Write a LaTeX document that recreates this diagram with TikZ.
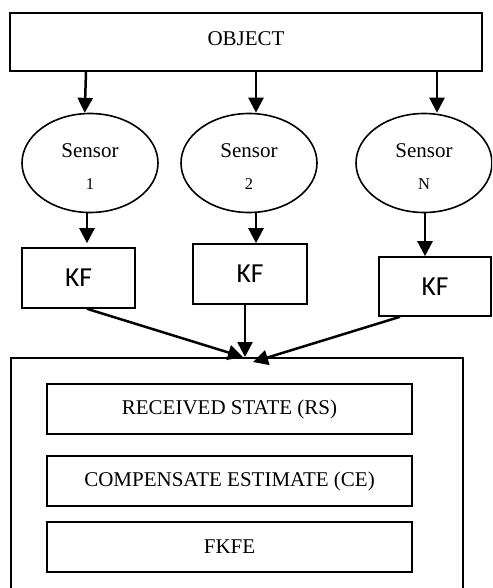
\documentclass[tikz,border=0pt]{standalone}
\usepackage{fontspec}
\setmainfont{Liberation Serif}
\newfontfamily\kffont{Carlito}
\usetikzlibrary{arrows.meta,shapes.geometric,calc}

\tikzset{
  box/.style={draw, line width=1.6pt, rectangle, inner sep=0pt},
  sensorshape/.style={draw, line width=1.6pt, ellipse, inner sep=0pt,
    minimum width=136pt, minimum height=99pt,
    font=\fontsize{21}{25}\selectfont},
  kfbox/.style={box, minimum width=113pt, minimum height=60pt,
    font=\kffont\fontsize{27.5}{30}\selectfont},
  innerbox/.style={box, minimum width=365pt, minimum height=50pt,
    font=\fontsize{21}{25}\selectfont},
  arr/.style={line width=2.5pt, -{Triangle[width=15pt,length=15pt]}},
}

% two-line sensor caption, set a little below the ellipse centre
\newcommand{\sensorlabel}[1]{\raisebox{0pt}[\dimexpr\height+12pt\relax]{\begin{tabular}{@{}c@{}}Sensor\\[7pt]{\fontsize{16.5}{18}\selectfont #1}\end{tabular}}}

\begin{document}
\begin{tikzpicture}[x=1pt,y=-1pt]
  \clip (0,0) rectangle (492,588);

  % source
  \node[box, minimum width=472pt, minimum height=58pt,
        font=\fontsize{21}{25}\selectfont] (obj) at (246,42) {\raisebox{6pt}{OBJECT}};

  % sensors
  \node[sensorshape] (s1) at (90,163)  {\sensorlabel{1}};
  \node[sensorshape] (s2) at (249,163) {\sensorlabel{2}};
  \node[sensorshape] (s3) at (424,163) {\sensorlabel{N}};

  % Kalman filters
  \node[kfbox] (k1) at (78.5,278) {KF};
  \node[kfbox, minimum width=114pt] (k2) at (250,274) {KF};
  \node[kfbox, minimum width=112pt, minimum height=59pt] (k3) at (435,286.5) {KF};

  % fusion block
  \node[box, line width=1.5pt, minimum width=452pt, minimum height=260pt,
        anchor=north] (fus) at (237,357) {};
  \node[innerbox] (rs)   at (229.5,409) {RECEIVED STATE (RS)};
  \node[innerbox] (ce)   at (229.5,481) {COMPENSATE ESTIMATE (CE)};
  \node[innerbox] (fkfe) at (229.5,547) {FKFE};

  % object -> sensors
  \coordinate (t2) at ([xshift=7pt]s2.north);
  \coordinate (t3) at ([xshift=13pt]s3.north);
  \draw[arr] ([xshift=-160pt]obj.south) -- (s1.96);
  \draw[arr] (t2 |- obj.south) -- (t2);
  \draw[arr] (t3 |- obj.south) -- (t3);

  % sensors -> filters
  \coordinate (b1) at ([xshift=-3pt]s1.south);
  \coordinate (b2) at ([xshift=7pt]s2.south);
  \coordinate (b3) at ([xshift=1pt]s3.south);
  \draw[arr, shorten >=4pt] (b1) -- (b1 |- k1.north);
  \draw[arr] (b2) -- (b2 |- k2.north);
  \draw[arr] (b3) -- (b3 |- k3.north);

  % filters -> fusion
  \coordinate (m1) at ([xshift=6pt]fus.north);
  \coordinate (m2) at ([xshift=8pt]fus.north);
  \coordinate (m3) at ([xshift=16pt,yshift=-5pt]fus.north);
  \draw[arr] ([xshift=8.5pt]k1.south) -- (m1);
  \draw[arr] ([xshift=-5pt]k2.south) -- (m2);
  \draw[arr] ([xshift=-35pt]k3.south) -- (m3);
\end{tikzpicture}
\end{document}
